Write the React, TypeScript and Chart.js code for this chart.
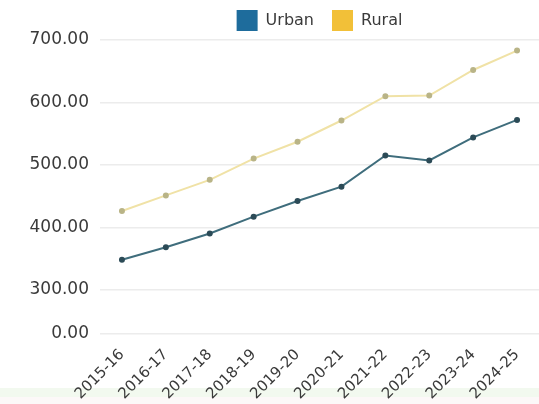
import React, { useEffect, useRef } from "react";
import { Chart, registerables } from "chart.js";

Chart.register(...registerables);

const categories = ["2015-16", "2016-17", "2017-18", "2018-19", "2019-20", "2020-21", "2021-22", "2022-23", "2023-24", "2024-25"];
const urbanValues = [348, 368, 390, 417, 442, 465, 515, 507, 544, 572];
const ruralValues = [426, 451, 476, 510, 537, 571, 610, 611, 652, 683];
const yTickValues = [229, 300, 400, 500, 600, 700];
const yBottomLabel = "0.00";

const FONT = "'DejaVu Sans', sans-serif";

export default function App() {
  const canvasRef = useRef<HTMLCanvasElement | null>(null);

  useEffect(() => {
    const canvas = canvasRef.current;
    if (!canvas) return;
    const chart = new Chart(canvas, {
      type: "line",
      data: {
        labels: categories,
        datasets: [
          {
            label: "Urban",
            data: urbanValues,
            borderColor: "#3f6d7c",
            backgroundColor: "#1e6c9c",
            pointBackgroundColor: "#2c4b57",
            pointBorderColor: "#2c4b57",
            pointRadius: 2,
            borderWidth: 2,
            tension: 0,
          },
          {
            label: "Rural",
            data: ruralValues,
            borderColor: "#f0e2a6",
            backgroundColor: "#f2c038",
            pointBackgroundColor: "#b9b487",
            pointBorderColor: "#b9b487",
            pointRadius: 2,
            borderWidth: 2,
            tension: 0,
          },
        ],
      },
      options: {
        animation: false,
        responsive: false,
        maintainAspectRatio: false,
        layout: { padding: { top: -8, right: 0, bottom: 0, left: 0 } },
        plugins: {
          tooltip: { enabled: false },
          legend: {
            display: true,
            position: "top",
            fullSize: false,
            maxHeight: 48,
            labels: {
              boxWidth: 21,
              boxHeight: 21,
              padding: 18,
              color: "#3a3a3a",
              font: { family: FONT, size: 16 },
              generateLabels: (c: any) =>
                c.data.datasets.map((ds: any, i: number) => ({
                  text: ds.label,
                  fillStyle: ds.backgroundColor,
                  strokeStyle: ds.backgroundColor,
                  lineWidth: 0,
                  hidden: false,
                  datasetIndex: i,
                  fontColor: "#3a3a3a",
                })),
            },
          },
        },
        scales: {
          x: {
            offset: true,
            grid: { display: false },
            border: { display: false },
            ticks: {
              color: "#3a3a3a",
              font: { family: FONT, size: 15 },
              minRotation: 45,
              maxRotation: 45,
              autoSkip: false,
              padding: 4,
            },
            afterFit: (s: any) => {
              s.height = 70;
            },
          },
          y: {
            min: yTickValues[0],
            max: yTickValues[yTickValues.length - 1],
            grid: { color: "#ececec", lineWidth: 1.5, drawTicks: false },
            border: { display: false },
            afterBuildTicks: (s: any) => {
              s.ticks = yTickValues.map((v) => ({ value: v }));
            },
            ticks: {
              color: "#3a3a3a",
              font: { family: FONT, size: 17 },
              padding: 11,
              callback: (v: any) => (Number(v) === yTickValues[0] ? yBottomLabel : Number(v).toFixed(2)),
            },
            afterFit: (s: any) => {
              s.width = 100;
            },
          },
        },
      },
    });
    return () => chart.destroy();
  }, []);

  return (
    <div style={{ position: "fixed", left: 0, top: 0, width: 539, height: 404, overflow: "hidden", background: "#ffffff" }}>
      <div style={{ position: "absolute", left: 0, top: 388, width: 539, height: 9, background: "#f2f9ef" }} />
      <div style={{ position: "absolute", left: 0, top: 397, width: 539, height: 7, background: "#fcf8f8" }} />
      <canvas ref={canvasRef} width={545} height={404} style={{ position: "absolute", left: 0, top: 0, display: "block" }} />
    </div>
  );
}
